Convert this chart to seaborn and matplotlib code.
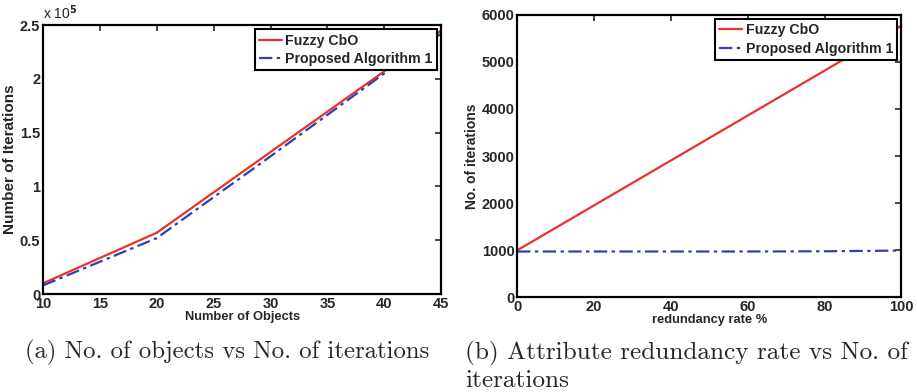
import numpy as np
import pandas as pd
import matplotlib
matplotlib.use("Agg")
import matplotlib.pyplot as plt
from matplotlib.ticker import FuncFormatter
import seaborn as sns

# panel (a): number of objects vs iterations
objects = [10, 20, 30, 40, 45]
fuzzy_a = [10000, 57000, 132000, 207000, 245000]
proposed_a = [8000, 52000, 128000, 205000, 242000]

# panel (b): redundancy rate vs iterations
redundancy = [0, 20, 40, 60, 80, 100]
fuzzy_b = [995, 1950, 2905, 3860, 4815, 5772]
proposed_b = [970, 970, 970, 970, 975, 990]

series_names = ["Fuzzy CbO", "Proposed Algorithm 1"]
RED = "#e8322d"
BLUE = "#3440a8"

sns.set_style("white")
plt.rcParams["font.family"] = ["Liberation Sans", "DejaVu Sans"]
plt.rcParams["font.weight"] = "bold"


def make_df(x, a, b):
    return pd.DataFrame({
        "x": list(x) * 2,
        "y": list(a) + list(b),
        "series": [series_names[0]] * len(x) + [series_names[1]] * len(x),
    })


def style_axes(ax):
    for s in ax.spines.values():
        s.set_linewidth(1.6)
        s.set_color("black")
    ax.tick_params(direction="in", top=True, right=True, length=4, width=1.2,
                   labelsize=10.5, pad=2)
    for lab in ax.get_xticklabels() + ax.get_yticklabels():
        lab.set_fontweight("bold")


def draw_panel(ax, df, label_x, label_y, ylab_size):
    sns.lineplot(data=df, x="x", y="y", hue="series", style="series",
                 palette=[RED, BLUE], dashes=[(None, None), (6, 2, 1.5, 2)],
                 linewidth=1.6, ax=ax)
    ax.set_xlabel(label_x, fontsize=9.3, fontweight="bold", labelpad=0)
    ax.set_ylabel(label_y, fontsize=ylab_size, fontweight="bold", labelpad=2)
    leg = ax.legend(loc="upper right", fontsize=10.2, frameon=True, fancybox=False,
                    framealpha=1, borderpad=0.3, labelspacing=0.3, handlelength=1.6,
                    handletextpad=0.25, borderaxespad=0.3)
    leg.get_frame().set_edgecolor("black")
    leg.get_frame().set_linewidth(1.5)
    for t in leg.get_texts():
        t.set_fontweight("bold")


fig = plt.figure(figsize=(9.17, 3.92), dpi=100)
ax1 = fig.add_axes([0.047, 0.25, 0.434, 0.686])
ax2 = fig.add_axes([0.564, 0.242, 0.419, 0.720])

draw_panel(ax1, make_df(objects, fuzzy_a, proposed_a), "Number of Objects", "Number of Iterations", 11)
ax1.set_xlim(10, 45)
ax1.set_ylim(0, 250000)
ax1.set_xticks([10, 15, 20, 25, 30, 35, 40, 45])
ax1.set_yticks([0, 50000, 100000, 150000, 200000, 250000])
ax1.yaxis.set_major_formatter(FuncFormatter(lambda v, p: f"{v / 1e5:g}"))
ax1.text(0.0, 1.01, r"x 10$^5$", transform=ax1.transAxes, fontsize=10,
         fontweight="normal", ha="left", va="bottom")
style_axes(ax1)

draw_panel(ax2, make_df(redundancy, fuzzy_b, proposed_b), "redundancy rate %", "No. of iterations", 10)
ax2.set_xlim(0, 100)
ax2.set_ylim(0, 6000)
ax2.set_xticks([0, 20, 40, 60, 80, 100])
ax2.set_yticks([0, 1000, 2000, 3000, 4000, 5000, 6000])
style_axes(ax2)

cap = dict(family="cmr10", ha="left", va="baseline", fontweight="normal")
fig.text(25 / 917, 1 - 358 / 392, "(a) No. of objects vs No. of iterations", fontsize=17.8, **cap)
fig.text(465 / 917, 1 - 359 / 392, "(b) Attribute redundancy rate vs No. of", fontsize=18.2, **cap)
fig.text(465 / 917, 1 - 387 / 392, "iterations", fontsize=18.2, **cap)

fig.savefig("out.png", dpi=100)
